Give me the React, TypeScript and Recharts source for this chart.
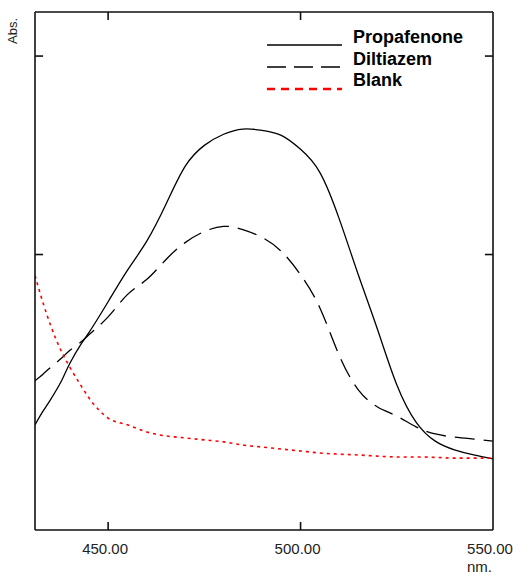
import { LineChart, Line, XAxis, YAxis, Legend, ReferenceLine } from "recharts";

// wavelength samples (nm)
const wavelengths = [
  431, 433, 435, 438, 440, 443, 445, 450, 455, 460, 465, 470, 475, 480, 485,
  490, 495, 500, 505, 510, 515, 520, 525, 530, 535, 540, 545, 550,
];

// absorbance values
const propafenone = [
  0.071, 0.104, 0.134, 0.184, 0.225, 0.275, 0.303, 0.381, 0.46, 0.533, 0.626,
  0.722, 0.775, 0.803, 0.816, 0.813, 0.8, 0.765, 0.707, 0.591, 0.449, 0.311,
  0.172, 0.078, 0.03, 0.008, -0.005, -0.015,
];

const diltiazem = [
  0.182, 0.198, 0.215, 0.24, 0.258, 0.28, 0.298, 0.343, 0.399, 0.437, 0.487,
  0.53, 0.558, 0.571, 0.563, 0.543, 0.508, 0.449, 0.366, 0.247, 0.159, 0.116,
  0.093, 0.066, 0.048, 0.04, 0.035, 0.03,
];

const blank = [
  0.447, 0.381, 0.323, 0.253, 0.217, 0.169, 0.139, 0.088, 0.071, 0.053, 0.043,
  0.038, 0.033, 0.028, 0.02, 0.015, 0.01, 0.005, 0.0, -0.003, -0.005, -0.008,
  -0.01, -0.01, -0.011, -0.013, -0.013, -0.013,
];

const xTicks = [450, 500, 550];
const innerXTicks = [450, 500];
const yTicks = [0.5, 1.0];

const X_MIN = 431;
const X_MAX = 550;
const Y_MIN = -0.194;
const Y_MAX = 1.111;
// inward tick length (~8px) expressed in data units
const TICK_X = 2.1;

const data = wavelengths.map((nm, i) => ({
  nm,
  propafenone: propafenone[i],
  diltiazem: diltiazem[i],
  blank: blank[i],
}));

const AXIS = "#111";
const FONT = "'Liberation Sans', Arial, sans-serif";

const legendItems = [
  { label: "Propafenone", color: "#000", dash: undefined as string | undefined },
  { label: "Diltiazem", color: "#000", dash: "19 8" },
  { label: "Blank", color: "#ff0000", dash: "8 6" },
];

const LegendBox = () => (
  <svg width={220} height={70} style={{ display: "block" }}>
    {legendItems.map((it, i) => (
      <g key={it.label}>
        <line
          x1={0}
          x2={75}
          y1={17 + i * 22}
          y2={17 + i * 22}
          stroke={it.color}
          strokeWidth={it.color === "#000" ? 1.5 : 2.5}
          strokeDasharray={it.dash}
        />
        <text
          x={86}
          y={15 + i * 21.5}
          fontFamily={FONT}
          fontWeight="bold"
          fontSize={18}
          fill="#000"
        >
          {it.label}
        </text>
      </g>
    ))}
  </svg>
);

// bottom tick: label plus a short inward mark above it (drawn as a thin rect)
const BottomTick = (props: any) => {
  const { x, y, payload } = props;
  const v = payload.value as number;
  return (
    <g>
      {v < X_MAX && <rect x={x - 0.8} y={y - 21} width={1.6} height={8} fill={AXIS} />}
      <text
        x={x - 3}
        y={y}
        dy="0.71em"
        textAnchor="middle"
        fontFamily={FONT}
        fontSize={15}
        fill="#222"
      >
        {v.toFixed(2)}
      </text>
    </g>
  );
};

// top tick: short inward mark only
const TopTick = (props: any) => {
  const { x, y } = props;
  return <rect x={x - 0.8} y={y - 8} width={1.6} height={8} fill={AXIS} />;
};

export default function App() {
  return (
    <div style={{ position: "absolute", left: 0, top: 0, width: 513, height: 576, background: "#fff" }}>
      <LineChart
        width={513}
        height={576}
        data={data}
        margin={{ top: 12, left: 35, right: 20, bottom: 0 }}
      >
        <XAxis
          dataKey="nm"
          type="number"
          domain={[X_MIN, X_MAX]}
          ticks={xTicks}
          allowDataOverflow
          height={46}
          stroke={AXIS}
          strokeWidth={1.6}
          tickLine={false}
          tickSize={-8}
          tickMargin={21}
          tick={BottomTick}
        />
        <XAxis
          xAxisId="top"
          orientation="top"
          dataKey="nm"
          type="number"
          domain={[X_MIN, X_MAX]}
          ticks={innerXTicks}
          allowDataOverflow
          height={1}
          mirror
          tick={TopTick}
          tickLine={false}
          tickSize={8}
          tickMargin={0}
          stroke={AXIS}
          strokeWidth={1.6}
        />
        <YAxis
          type="number"
          domain={[Y_MIN, Y_MAX]}
          ticks={yTicks}
          allowDataOverflow
          width={1}
          mirror
          tick={false}
          tickLine={false}
          stroke={AXIS}
          strokeWidth={1.6}
        />
        <YAxis
          yAxisId="right"
          orientation="right"
          type="number"
          domain={[Y_MIN, Y_MAX]}
          width={1}
          mirror
          tick={false}
          tickLine={false}
          stroke={AXIS}
          strokeWidth={1.6}
        />
        <Legend
          layout="horizontal"
          verticalAlign="middle"
          align="center"
          content={LegendBox}
          wrapperStyle={{ position: "absolute", left: 267, top: 28, width: 220 }}
        />
        {yTicks.map((t) => (
          <ReferenceLine
            key={`l${t}`}
            ifOverflow="visible"
            segment={[{ x: X_MIN, y: t }, { x: X_MIN + TICK_X, y: t }]}
            stroke={AXIS}
            strokeWidth={1.6}
          />
        ))}
        {yTicks.map((t) => (
          <ReferenceLine
            key={`r${t}`}
            ifOverflow="visible"
            segment={[{ x: X_MAX, y: t }, { x: X_MAX - TICK_X, y: t }]}
            stroke={AXIS}
            strokeWidth={1.6}
          />
        ))}
        <Line
          type="natural"
          dataKey="propafenone"
          stroke="#000"
          strokeWidth={1.3}
          dot={false}
          isAnimationActive={false}
        />
        <Line
          type="natural"
          dataKey="diltiazem"
          stroke="#000"
          strokeWidth={1.3}
          strokeDasharray="20 9"
          dot={false}
          isAnimationActive={false}
        />
        <Line
          type="monotone"
          dataKey="blank"
          stroke="#ff0000"
          strokeWidth={1.6}
          strokeDasharray="3 4"
          dot={false}
          isAnimationActive={false}
        />
      </LineChart>
      <div
        style={{
          position: "absolute",
          left: 12,
          top: 31,
          transform: "translate(-50%, -50%) rotate(-90deg)",
          fontFamily: FONT,
          fontSize: 13,
          color: "#222",
          whiteSpace: "nowrap",
        }}
      >
        Abs.
      </div>
      <div
        style={{
          position: "absolute",
          left: 467,
          top: 558,
          fontFamily: FONT,
          fontSize: 15,
          color: "#222",
        }}
      >
        nm.
      </div>
    </div>
  );
}
